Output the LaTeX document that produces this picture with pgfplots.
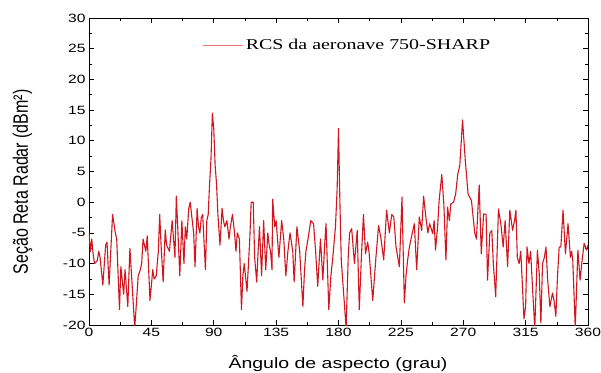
\documentclass[border=0pt]{standalone}
\usepackage{fontspec}
\usepackage{graphicx}
\setmainfont{Liberation Sans}[FakeStretch=1.3]
\newfontfamily\plainsans{Liberation Sans}
\newfontfamily\legfont{Liberation Serif}[FakeStretch=1.33]
\usepackage{pgfplots}
\pgfplotsset{compat=1.18}
\definecolor{rcsred}{RGB}{210,22,32}
\definecolor{legred}{RGB}{235,110,115}
\begin{document}
\begin{tikzpicture}
\begin{axis}[
  scale only axis, width=499pt, height=307pt,
  xmin=0, xmax=360, ymin=-20, ymax=30,
  xtick={0,45,...,360}, ytick={-20,-15,...,30},
  minor x tick num=1, minor y tick num=1,
  tick align=inside, major tick length=5pt, minor tick length=3pt,
  tick style={black, line width=0.6pt},
  axis line style={line width=0.8pt},
  every tick label/.append style={font=\fontsize{12}{12}\selectfont},
  /pgf/number format/assume math mode=true,
  xlabel={Ângulo de aspecto (grau)},
  xlabel style={at={(axis description cs:0.499,-0.124)}, anchor=center, font=\fontsize{15}{15}\selectfont},
  ylabel={\scalebox{1}[1.3]{\plainsans\fontsize{16}{16}\selectfont Seção Reta Radar (dBm²)}},
  ylabel style={at={(axis description cs:-0.133,0.466)}, anchor=center},
  legend style={at={(axis description cs:0.228,0.912)}, anchor=west, draw=none, fill=none,
    font=\legfont\fontsize{15}{15}\selectfont, inner sep=0pt, outer sep=0pt},
  legend image code/.code={\draw[legred, line width=1pt] (0pt,0pt) -- (40pt,0pt);},
  legend cell align=left,
]
\addplot[rcsred, line width=1.1pt, line join=round] coordinates {
(0,-5) (1,-8) (2,-6) (3,-8.5) (4,-10) (6,-9.5) (7,-8) (8,-9) (10,-13.5) (12,-7) (13,-6.5) (14.5,-13.5)
(17,-2) (19,-5) (20,-6) (22,-17.5) (23,-10.5) (25,-15) (26,-11) (28,-17) (29.5,-7.5) (31,-13)
(33,-20.5) (35.5,-12) (37,-11) (38,-10) (39,-6) (41,-8) (42,-5.5) (44,-16) (46,-11) (47,-12.5)
(48.5,-12) (50,-8) (51,-2) (52,-7) (53.5,-13) (55,-4.5) (56,-7) (58,-8) (60,-3) (61,-6) (62,-9) (63,1) (64,-4) (65.5,-12)
(67,-3) (68.5,-10) (69.5,-4) (70.5,-6) (72,-1) (73,0) (74.5,-3) (75.5,-5) (76.5,-10.5) (78,-1) (79,-4) (80,-5) (81,-2.5) (82,-2)
(84,-11) (85,-3) (86,-2) (87,3) (88,7) (89,14.5) (90,12) (91,6) (92,3) (93,-2) (94.5,-7)
(96,-1) (97,-3) (98,-4) (99.5,-3) (101,-6) (102,-4) (103.5,-2) (105,-5) (106,-8) (107,-5) (108.5,-6) (110,-17.5) (111,-12) (112,-10)
(114,-14.5) (116,-6) (117,0) (118.5,0) (119.5,-9) (121,-13) (122,-8) (123,-4) (124.5,-12) (126,-3) (127.5,-11)
(129,-5) (130,-7) (131,-8) (132,-11) (132.5,0.5) (134,-4) (135,-3) (136,-6) (137,-9) (139,-3) (140.5,-6) (142,-12) (143.5,-8) (145,-5)
(147,-8) (148,-13) (150,-4) (152,-8) (154.3,-17) (155.5,-11) (156.5,-8) (158,-6) (160,-3) (162,-3.5) (163.5,-8) (165,-13.7)
(167,-6) (168.7,-12.7) (170,-7) (171,-3.5) (173,-17.5) (174.5,-12) (175.9,-9) (177.8,-4) (179,2) (180,12) (181,0) (182,-9.5)
(185.5,-20.5) (187,-9) (188,-5) (189.5,-4.3) (191.5,-10) (193.5,-4.6) (195,-17.5) (196.5,-9) (198,-2) (199.5,-8.4) (201,-6.5) (202,-8) (204.7,-16)
(207,-9) (208.9,-3.8) (210.5,-5.7) (212.6,-9.4) (214.7,-1.3) (216.7,-5) (218.4,-2) (219.9,-2.4) (221.5,-7.3) (223.9,-10.5)
(225.8,0.8) (227.5,-16.4) (228.7,-12) (229.9,-9.4) (231,-7.5) (232.3,-6) (234.7,-3.5) (236.4,-11) (238.3,-2.4) (240,-4.6) (241.4,1) (243,-2.4)
(244.5,-5) (245.7,-3.5) (248,-5.1) (249,-3) (250,-7.8) (251.5,-4) (252.6,0.3) (254.5,4.5) (256,-0.3) (257.5,-9.4) (258.7,-0.8) (260,-3) (261,-0.3) (263,0)
(264.5,1.3) (266,4.5) (267.5,6) (269.5,13.4) (270.5,10) (271.5,6.7) (273.5,1.3) (275.9,0.3) (278.3,-5) (279.5,-6)
(281.5,2.8) (283,-8.4) (284.7,-1.9) (286.5,-2) (287.5,-12.7) (289.2,-5) (290.6,-4.6) (291.7,-10) (293.4,-15.4) (295.4,-1.1)
(297.1,-3.5) (298.8,-7.3) (300.2,-3) (302,-10.5) (303.6,-1.3) (305.6,-4.6) (307,-3) (308,-1.3) (309,-9) (310.3,-10) (311.5,-8) (312.5,-12.7)
(313.8,-19) (315,-17) (316,-7.3) (317.4,-10) (318.6,-8) (319.9,-13.7) (321.6,-20.5) (323.5,-7.8) (324.8,-11.6) (326,-19.7)
(327.2,-10) (328.5,-9) (329.7,-7.3) (330.9,-12.7) (332.5,-17) (334.4,-14.8) (335.5,-16) (336.8,-18.6) (338,-12) (339.2,-7.3) (340.4,-7.3) (342,-1.3) (343.7,-8.4)
(345.6,-3.5) (347.3,-9) (348.2,-8) (349,-9.4) (350.8,-20.5) (352.7,-7.8) (354.3,-12.7) (355.5,-10) (357.2,-6.7) (359,-7.8) (360,-7)
};
\addlegendentry{RCS da aeronave 750-SHARP}
\end{axis}
\pgfresetboundingbox
\path (current axis.south west) ++(-89pt,-47pt) rectangle ++(601pt,372pt);
\end{tikzpicture}
\end{document}
